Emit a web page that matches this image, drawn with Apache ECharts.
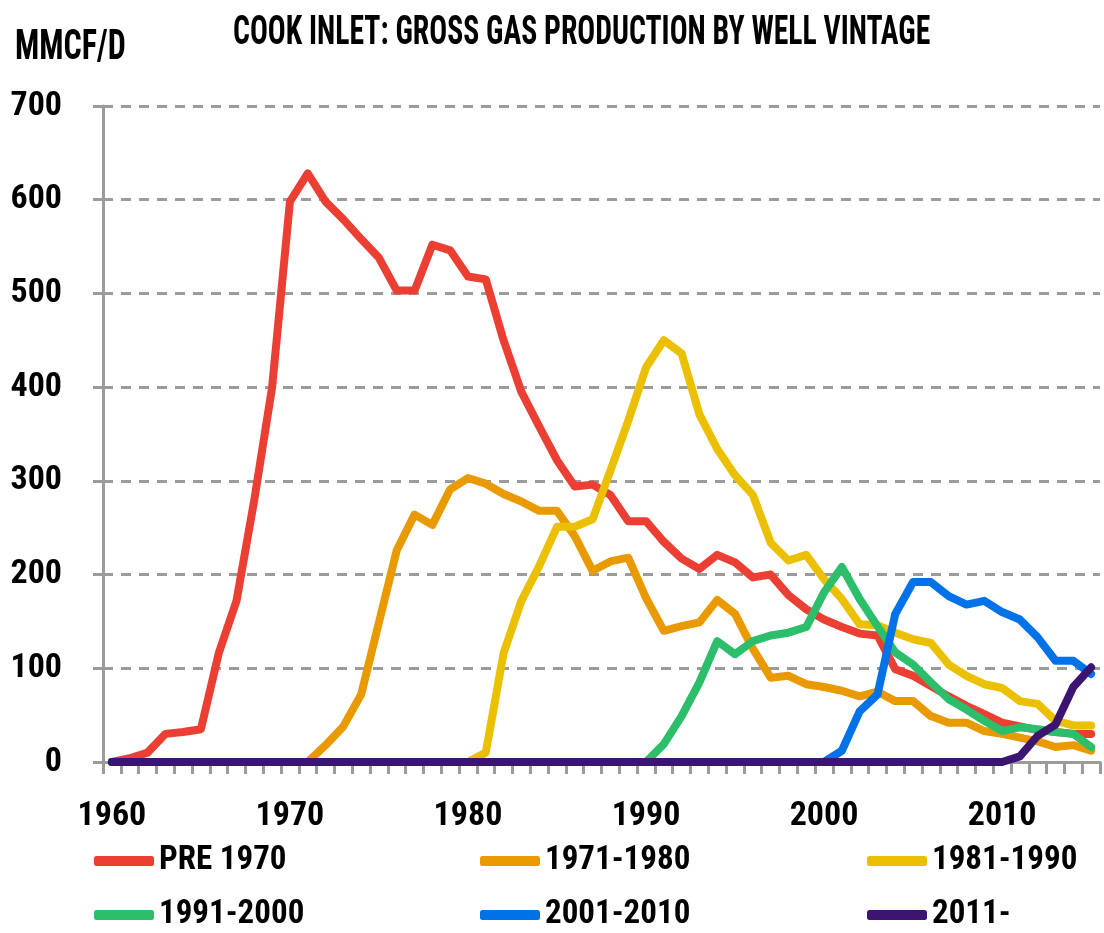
<!DOCTYPE html>
<html>
<head>
<meta charset="utf-8">
<script src="https://cdn.jsdelivr.net/npm/echarts@6/dist/echarts.min.js"></script>
<style>
  html, body { margin: 0; padding: 0; background: #fff; }
  #chart { width: 1104px; height: 933px; }
</style>
</head>
<body>
<div id="chart"></div>
<script>
// years on the category axis
const years = [
  '1960','1961','1962','1963','1964','1965','1966','1967','1968','1969',
  '1970','1971','1972','1973','1974','1975','1976','1977','1978','1979',
  '1980','1981','1982','1983','1984','1985','1986','1987','1988','1989',
  '1990','1991','1992','1993','1994','1995','1996','1997','1998','1999',
  '2000','2001','2002','2003','2004','2005','2006','2007','2008','2009',
  '2010','2011','2012','2013','2014','2015'
];

// MMCF/D per well vintage
const pre1970 = [
  0, 4, 10, 30, 32, 35, 116, 172, 280, 400,
  598, 628, 598, 579, 558, 538, 503, 503, 552, 546,
  518, 515, 450, 395, 358, 322, 294, 296, 285, 257,
  257, 235, 217, 206, 221, 213, 197, 200, 178, 163,
  152, 144, 137, 135, 99, 92, 81, 70, 60, 51,
  42, 38, 34, 32, 30, 30
];
const v1971 = [
  0, 0, 0, 0, 0, 0, 0, 0, 0, 0,
  0, 0, 18, 38, 72, 149, 226, 264, 253, 291,
  303, 297, 286, 278, 268, 268, 241, 204, 214, 218,
  175, 140, 145, 149, 173, 158, 121, 90, 92, 83,
  80, 76, 70, 75, 65, 65, 49, 42, 42, 33,
  30, 26, 22, 16, 18, 12
];
const v1981 = [
  0, 0, 0, 0, 0, 0, 0, 0, 0, 0,
  0, 0, 0, 0, 0, 0, 0, 0, 0, 0,
  0, 10, 116, 172, 209, 251, 251, 259, 311, 364,
  421, 450, 436, 371, 334, 306, 285, 234, 215, 221,
  195, 174, 147, 146, 138, 131, 127, 104, 92, 83,
  79, 65, 62, 44, 39, 39
];
const v1991 = [
  0, 0, 0, 0, 0, 0, 0, 0, 0, 0,
  0, 0, 0, 0, 0, 0, 0, 0, 0, 0,
  0, 0, 0, 0, 0, 0, 0, 0, 0, 0,
  0, 19, 49, 85, 129, 115, 129, 135, 138, 144,
  181, 208, 174, 145, 117, 104, 85, 67, 56, 44,
  33, 37, 35, 32, 30, 16
];
const v2001 = [
  0, 0, 0, 0, 0, 0, 0, 0, 0, 0,
  0, 0, 0, 0, 0, 0, 0, 0, 0, 0,
  0, 0, 0, 0, 0, 0, 0, 0, 0, 0,
  0, 0, 0, 0, 0, 0, 0, 0, 0, 0,
  0, 12, 54, 72, 158, 192, 192, 177, 168, 172,
  160, 152, 133, 108, 108, 94
];
const v2011 = [
  0, 0, 0, 0, 0, 0, 0, 0, 0, 0,
  0, 0, 0, 0, 0, 0, 0, 0, 0, 0,
  0, 0, 0, 0, 0, 0, 0, 0, 0, 0,
  0, 0, 0, 0, 0, 0, 0, 0, 0, 0,
  0, 0, 0, 0, 0, 0, 0, 0, 0, 0,
  0, 6, 28, 40, 80, 101
];

const names = ['PRE 1970', '1971-1980', '1981-1990', '1991-2000', '2001-2010', '2011-'];
const colors = ['#EA3F32', '#E89A00', '#EAC000', '#2DBE6C', '#0072E8', '#3B1570'];
const values = [pre1970, v1971, v1981, v1991, v2001, v2011];

const FONT = '"Liberation Sans Narrow", "Roboto Condensed", "Noto Sans Condensed", "DejaVu Sans Condensed", sans-serif';
const GRAY = '#9B9B9B';

const chart = echarts.init(document.getElementById('chart'));

// three columns of two items, like the original layout
const legendStyle = {
  orient: 'vertical',
  top: 844,
  bottom: 0,
  padding: 0,
  itemWidth: 60,
  itemHeight: 10,
  itemGap: 20,
  icon: 'roundRect',
  textStyle: { fontFamily: FONT, fontWeight: 'bold', fontSize: 33, color: '#000', lineHeight: 34 }
};

chart.setOption({
  animation: false,
  color: colors,
  graphic: [
    {
      type: 'text', x: 233, y: 13, scaleX: 0.99, scaleY: 1.38,
      style: {
        text: 'COOK INLET: GROSS GAS PRODUCTION BY WELL VINTAGE',
        font: 'bold 30px ' + FONT, fill: '#000', textVerticalAlign: 'top'
      }
    },
    {
      type: 'text', x: 15, y: 27, scaleX: 1, scaleY: 1.34,
      style: {
        text: 'MMCF/D',
        font: 'bold 32px ' + FONT, fill: '#000', textVerticalAlign: 'top'
      }
    }
  ],
  legend: [
    Object.assign({ left: 94, data: [names[0], names[3]] }, legendStyle),
    Object.assign({ left: 480, data: [names[1], names[4]] }, legendStyle),
    Object.assign({ left: 867, data: [names[2], names[5]] }, legendStyle)
  ],
  grid: { left: 103, right: 4, top: 106, bottom: 171 },
  xAxis: {
    type: 'category',
    data: years,
    boundaryGap: true,
    axisLine: { lineStyle: { color: GRAY, width: 3 } },
    axisTick: { show: true, interval: 0, length: 12, lineStyle: { color: GRAY, width: 3 } },
    axisLabel: {
      interval: 9, margin: 37,
      fontFamily: FONT, fontWeight: 'bold', fontSize: 34, color: '#000'
    },
    splitLine: { show: false }
  },
  yAxis: {
    type: 'value',
    min: 0, max: 700, interval: 100,
    axisLine: { show: true, lineStyle: { color: GRAY, width: 3 } },
    axisTick: { show: true, length: 10, lineStyle: { color: GRAY, width: 3 } },
    axisLabel: { margin: 41, fontFamily: FONT, fontWeight: 'bold', fontSize: 34, color: '#000' },
    splitLine: { lineStyle: { color: GRAY, width: 3, type: [10, 8] } }
  },
  series: names.map((n, i) => ({
    name: n,
    type: 'line',
    data: values[i],
    showSymbol: false,
    symbol: 'none',
    lineStyle: { width: 8, color: colors[i], cap: 'round', join: 'round' },
    itemStyle: { color: colors[i] }
  }))
});
</script>
</body>
</html>
